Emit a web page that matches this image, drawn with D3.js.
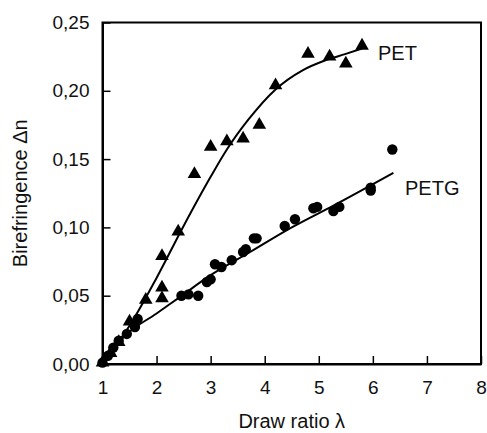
<!DOCTYPE html>
<html><head><meta charset="utf-8">
<script src="https://cdn.jsdelivr.net/npm/d3@7"></script>
<style>
html,body{margin:0;padding:0;background:#fff;}
text{font-family:Arial,"Liberation Sans",sans-serif;fill:#111;}
</style></head>
<body><svg id="c" width="487" height="433"></svg>
<script>
// Data
const xTicks = [1,2,3,4,5,6,7,8];
const yTicks = [0,0.05,0.10,0.15,0.20,0.25];
const petX = [1.0,1.15,1.3,1.5,1.8,2.1,2.1,2.1,2.4,2.7,3.0,3.3,3.6,3.9,4.2,4.8,5.2,5.5,5.8];
const petY = [0.001,0.008,0.016,0.031,0.047,0.048,0.056,0.079,0.097,0.139,0.159,0.163,0.165,0.175,0.204,0.227,0.225,0.220,0.233];
const petgX = [1.0,1.1,1.2,1.3,1.45,1.6,1.65,2.46,2.59,2.77,2.93,3.0,3.08,3.2,3.39,3.6,3.65,3.8,3.85,4.37,4.56,4.9,4.97,5.27,5.38,5.96,5.96,6.36];
const petgY = [0.001,0.006,0.012,0.017,0.022,0.027,0.033,0.050,0.051,0.050,0.060,0.062,0.073,0.071,0.076,0.082,0.084,0.092,0.092,0.101,0.106,0.114,0.115,0.112,0.115,0.127,0.129,0.157];
const petFitX = [1.0,1.5,2.0,2.5,3.0,3.3,3.7,4.2,4.7,5.1,5.5,5.8];
const petFitY = [0.001,0.028,0.063,0.101,0.137,0.157,0.179,0.201,0.215,0.222,0.227,0.231];
const petgFitX = [1.0,1.4,2.0,2.43,3.0,3.73,4.5,5.27,6.38];
const petgFitY = [0.0,0.020,0.037,0.049,0.065,0.082,0.100,0.116,0.140];
const seriesLabels = ["PET","PETG"];
const xTitle = "Draw ratio λ";
const yTitle = "Birefringence Δn";

const svg = d3.select("#c");
const x = d3.scaleLinear().domain([1,8]).range([102.5,481]);
const y = d3.scaleLinear().domain([0,0.25]).range([364,22.5]);
const fmt = d => d3.format(".2f")(d).replace(".", ",");

// frame
svg.append("rect").attr("x",x(1)).attr("y",y(0.25)).attr("width",x(8)-x(1)).attr("height",y(0)-y(0.25))
  .attr("fill","none").attr("stroke","#000").attr("stroke-width",2);

const gx = svg.append("g").attr("transform",`translate(0,${y(0)})`)
  .call(d3.axisBottom(x).tickValues(xTicks).tickSizeInner(-8).tickSizeOuter(0).tickPadding(17).tickFormat(d3.format("d")));
const gy = svg.append("g").attr("transform",`translate(${x(1)},0)`)
  .call(d3.axisLeft(y).tickValues(yTicks).tickSizeInner(-8).tickSizeOuter(0).tickPadding(13).tickFormat(fmt));
[gx,gy].forEach(g=>{
  g.select(".domain").attr("stroke","#000").attr("stroke-width",2);
  g.selectAll(".tick line").attr("stroke","#000").attr("stroke-width",1.5);
  g.selectAll(".tick text").attr("font-size",19).attr("fill","#111").attr("font-family","Arial, 'Liberation Sans', sans-serif");
});

const line = d3.line().x(d=>x(d[0])).y(d=>y(d[1])).curve(d3.curveMonotoneX);
svg.append("path").datum(d3.zip(petFitX,petFitY)).attr("d",line).attr("fill","none").attr("stroke","#000").attr("stroke-width",2);
svg.append("path").datum(d3.zip(petgFitX,petgFitY)).attr("d",line).attr("fill","none").attr("stroke","#000").attr("stroke-width",2);

svg.append("g").selectAll("path").data(d3.zip(petX,petY)).join("path")
  .attr("d",d3.symbol(d3.symbolTriangle,80)).attr("transform",d=>`translate(${x(d[0])},${y(d[1])})`).attr("fill","#000");
svg.append("g").selectAll("circle").data(d3.zip(petgX,petgY)).join("circle")
  .attr("cx",d=>x(d[0])).attr("cy",d=>y(d[1])).attr("r",5.2).attr("fill","#000");

svg.append("text").attr("x",378).attr("y",60).attr("font-size",20).text(seriesLabels[0]);
svg.append("text").attr("x",405).attr("y",195).attr("font-size",20).text(seriesLabels[1]);
svg.append("text").attr("x",(x(1)+x(8))/2).attr("y",428).attr("text-anchor","middle").attr("font-size",20).text(xTitle);
svg.append("text").attr("transform",`translate(27,${(y(0)+y(0.25))/2}) rotate(-90)`).attr("text-anchor","middle").attr("font-size",20).text(yTitle);
</script></body></html>
